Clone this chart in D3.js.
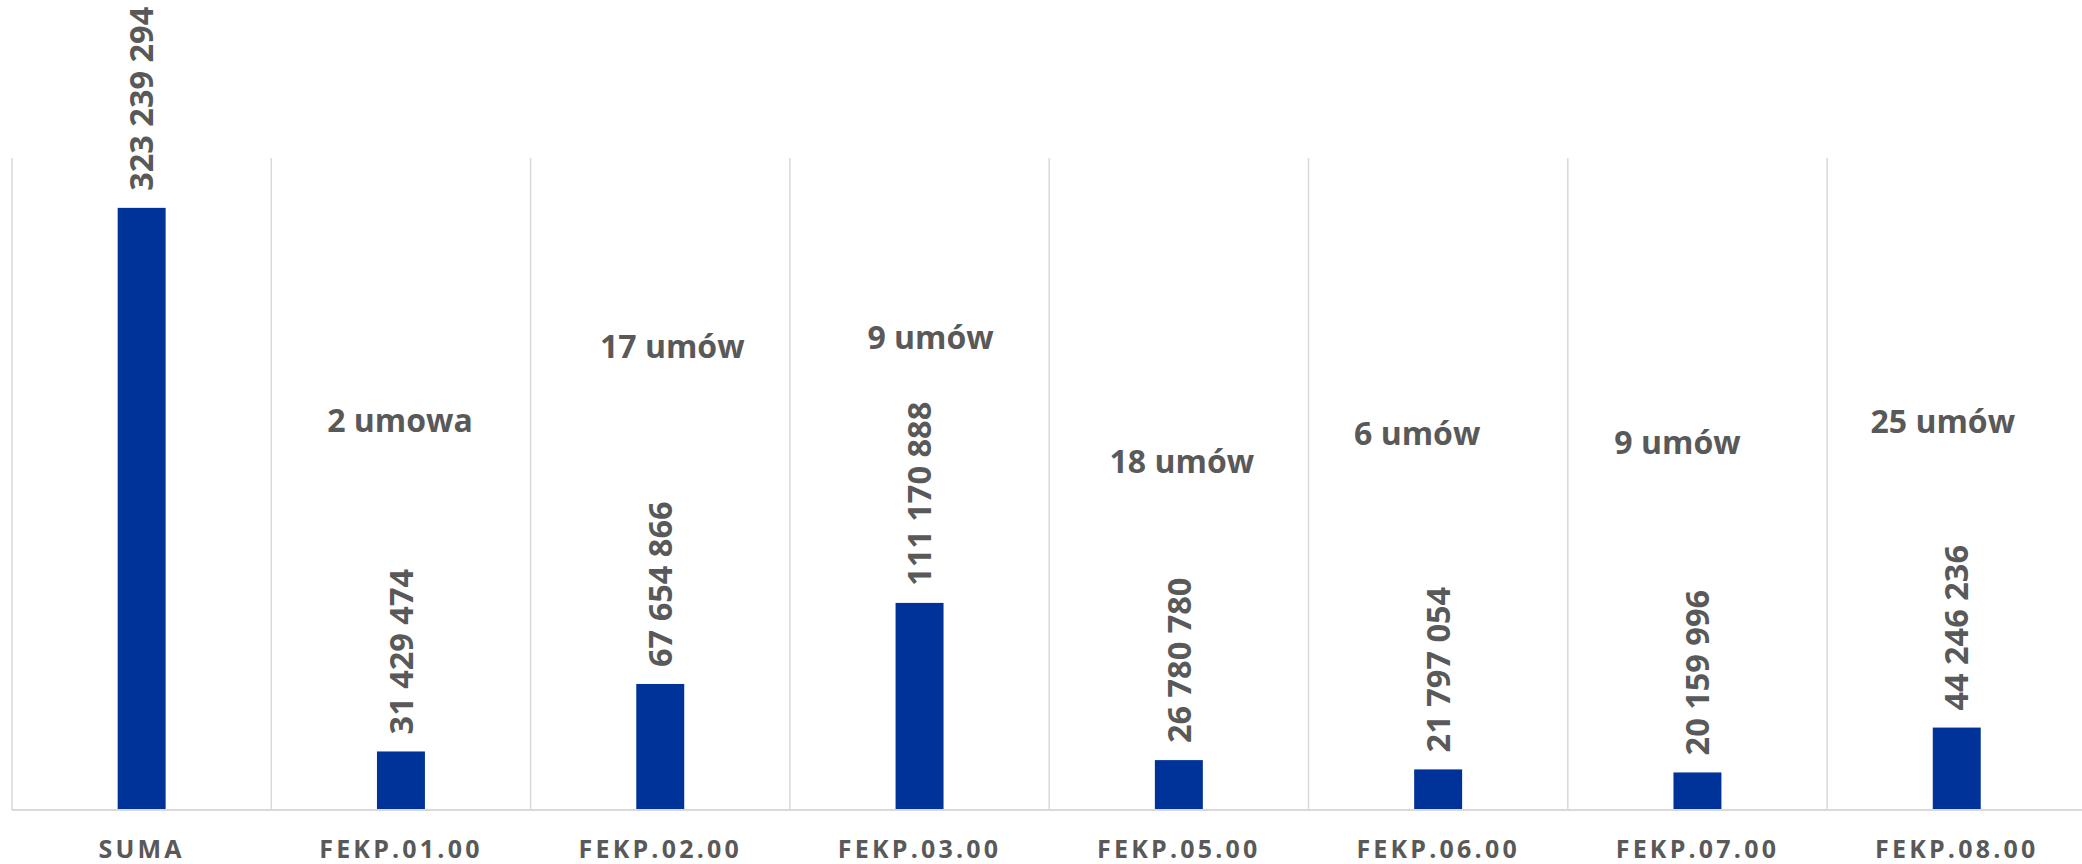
<!DOCTYPE html>
<html>
<head>
<meta charset="utf-8">
<script src="https://cdn.jsdelivr.net/npm/d3@7/dist/d3.min.js"></script>
<style>
  html, body { margin: 0; padding: 0; background: #ffffff; }
  svg { display: block; }
</style>
</head>
<body>
<div id="chart"></div>
<script>
// ---- data ----
const categories = ["SUMA", "FEKP.01.00", "FEKP.02.00", "FEKP.03.00", "FEKP.05.00", "FEKP.06.00", "FEKP.07.00", "FEKP.08.00"];
const values = [323239294, 31429474, 67654866, 111170888, 26780780, 21797054, 20159996, 44246236];
const countCategories = ["FEKP.01.00", "FEKP.02.00", "FEKP.03.00", "FEKP.05.00", "FEKP.06.00", "FEKP.07.00", "FEKP.08.00"];
const countLabels = ["2 umowa", "17 umów", "9 umów", "18 umów", "6 umów", "9 umów", "25 umów"];

// ---- layout (manually placed count annotations: x offset from band centre, baseline y) ----
const countLabelDx = [-1, 12, 11, 3, -21, -20, -14];
const countLabelY = [432, 358, 349, 473, 445, 454, 433];

const W = 2082, H = 864;
const plot = { left: 12, top: 158, bottom: 810, band: 259.3 };
const yMax = 350000000;

const svg = d3.select("#chart").append("svg")
  .attr("width", W).attr("height", H);

const x = d3.scaleBand()
  .domain(categories)
  .range([plot.left, plot.left + plot.band * categories.length])
  .paddingInner(0.815).paddingOuter(0.4075);

// band boundaries scale (no padding) for gridlines
const xb = d3.scaleBand()
  .domain(categories)
  .range([plot.left, plot.left + plot.band * categories.length]);

const y = d3.scaleLinear().domain([0, yMax]).range([plot.bottom, plot.top]);

const grey = "#595959";
const gridColor = "#d9d9d9";
const barColor = "#003399";
const fontFam = "'Open Sans', 'DejaVu Sans', sans-serif";

// vertical gridlines at category boundaries
svg.append("g").selectAll("line")
  .data(categories)
  .join("line")
  .attr("x1", d => xb(d)).attr("x2", d => xb(d))
  .attr("y1", plot.top).attr("y2", plot.bottom)
  .attr("stroke", gridColor).attr("stroke-width", 1.5);

// bars
svg.append("g").selectAll("rect")
  .data(categories)
  .join("rect")
  .attr("x", d => x(d))
  .attr("width", x.bandwidth())
  .attr("y", (d, i) => y(values[i]))
  .attr("height", (d, i) => plot.bottom - y(values[i]))
  .attr("fill", barColor);

// x axis
const xAxis = d3.axisBottom(xb).tickSizeInner(0).tickSizeOuter(0).tickPadding(30);
const gx = svg.append("g")
  .attr("transform", `translate(0,${plot.bottom})`)
  .call(xAxis);
gx.select(".domain").attr("stroke", gridColor).attr("stroke-width", 2)
  .attr("d", `M${plot.left},0H${W}`);
gx.selectAll(".tick text")
  .attr("fill", grey)
  .style("font-family", fontFam)
  .style("font-size", "25px")
  .style("font-weight", "700")
  .style("letter-spacing", "3.2px");

// value labels (rotated)
const fmt = d3.formatLocale({ decimal: ",", thousands: " ", grouping: [3], currency: ["", " zł"] }).format(",d");
svg.append("g").selectAll("text")
  .data(categories)
  .join("text")
  .attr("transform", (d, i) => `translate(${xb(d) + xb.bandwidth() / 2},${y(values[i]) - 17}) rotate(-90)`)
  .attr("dy", "0.36em")
  .attr("text-anchor", "start")
  .attr("fill", grey)
  .style("font-family", fontFam)
  .style("font-size", "32.5px")
  .style("font-weight", "700")
  .text((d, i) => fmt(values[i]));

// contract count labels
svg.append("g").selectAll("text")
  .data(countCategories)
  .join("text")
  .attr("x", (d, i) => xb(d) + xb.bandwidth() / 2 + countLabelDx[i])
  .attr("y", (d, i) => countLabelY[i])
  .attr("text-anchor", "middle")
  .attr("fill", grey)
  .style("font-family", fontFam)
  .style("font-size", "32px")
  .style("font-weight", "700")
  .text((d, i) => countLabels[i]);
</script>
</body>
</html>
